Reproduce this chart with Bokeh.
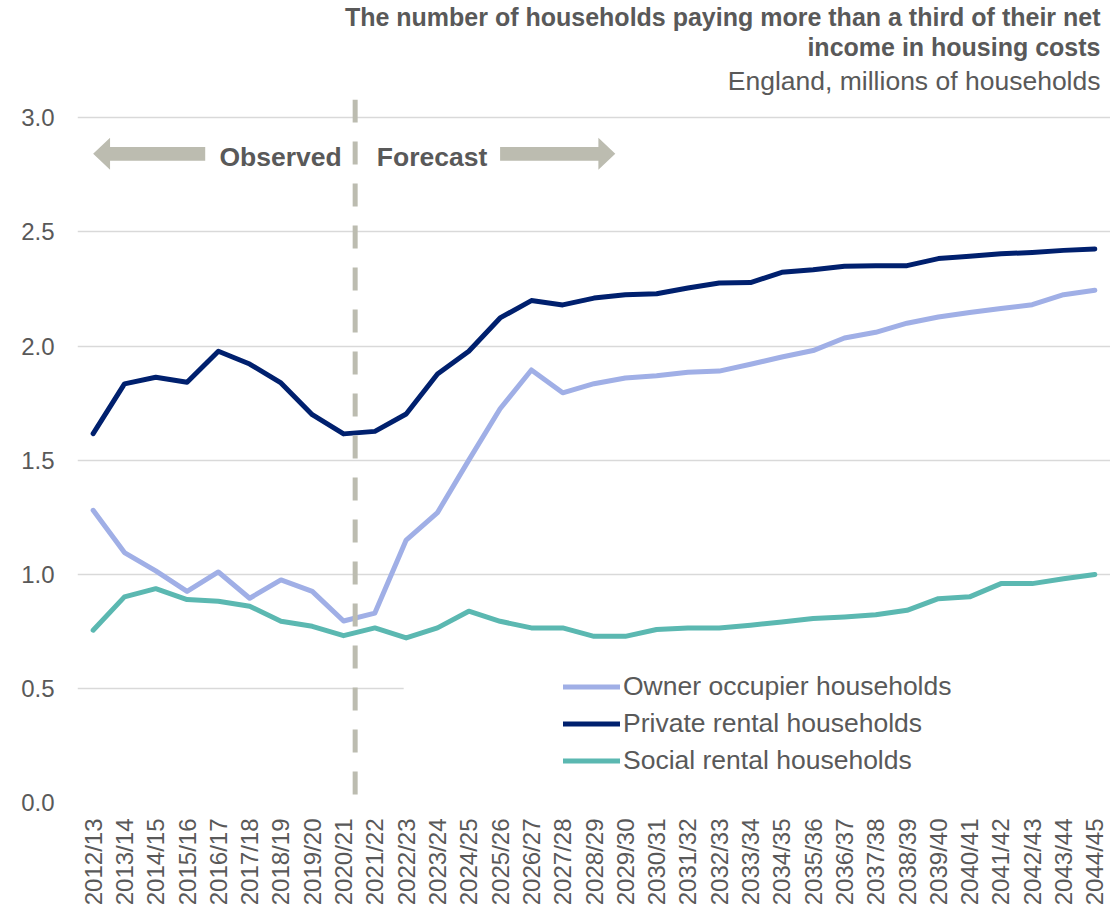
import math
from bokeh.plotting import figure
from bokeh.models import (Range1d, FixedTicker, Span, Label, Legend, LegendItem,
                          Title, BoxAnnotation, PrintfTickFormatter)
from bokeh.embed import file_html
from bokeh.resources import INLINE

# ---------------- data ----------------
years = ["2012/13", "2013/14", "2014/15", "2015/16", "2016/17", "2017/18", "2018/19",
         "2019/20", "2020/21", "2021/22", "2022/23", "2023/24", "2024/25", "2025/26",
         "2026/27", "2027/28", "2028/29", "2029/30", "2030/31", "2031/32", "2032/33",
         "2033/34", "2034/35", "2035/36", "2036/37", "2037/38", "2038/39", "2039/40",
         "2040/41", "2041/42", "2042/43", "2043/44", "2044/45"]

owner = [1.28, 1.095, 1.015, 0.925, 1.01, 0.895, 0.975, 0.925, 0.795, 0.83, 1.15,
         1.27, 1.50, 1.725, 1.895, 1.795, 1.835, 1.86, 1.87, 1.885, 1.89, 1.92, 1.952,
         1.98, 2.035, 2.06, 2.10, 2.127, 2.147, 2.164, 2.181, 2.225, 2.244]

private = [1.616, 1.834, 1.863, 1.841, 1.977, 1.921, 1.838, 1.699, 1.615, 1.626, 1.702,
           1.877, 1.977, 2.123, 2.199, 2.180, 2.210, 2.225, 2.229, 2.254, 2.276, 2.278,
           2.323, 2.334, 2.349, 2.352, 2.352, 2.383, 2.393, 2.404, 2.410, 2.419, 2.425]

social = [0.755, 0.901, 0.937, 0.889, 0.882, 0.860, 0.794, 0.772, 0.731, 0.765, 0.721,
          0.765, 0.838, 0.794, 0.765, 0.765, 0.728, 0.728, 0.758, 0.765, 0.765, 0.777,
          0.791, 0.806, 0.813, 0.823, 0.842, 0.893, 0.901, 0.959, 0.959, 0.980, 0.999]

series_names = ["Owner occupier households", "Private rental households",
                "Social rental households"]
y_ticks = [0.0, 0.5, 1.0, 1.5, 2.0, 2.5, 3.0]

title_line1 = "The number of households paying more than a third of their net"
title_line2 = "income in housing costs"
subtitle = "England, millions of households"

# ---------------- style ----------------
FONT = "Liberation Sans"
TXT = "#595959"
C_OWNER = "#A0AFE6"
C_PRIVATE = "#00206E"
C_SOCIAL = "#5BB8B1"
C_GREY = "#BCBCB0"

x_idx = list(range(len(years)))

p = figure(width=1110, height=908, output_backend="svg", toolbar_location=None,
           x_range=Range1d(-0.5, len(years) - 0.5), y_range=Range1d(0, 3.08),
           min_border_left=77, min_border_right=0, min_border_top=0, min_border_bottom=0)
p.outline_line_color = None
p.background_fill_color = "white"
p.border_fill_color = "white"

# titles (first added is closest to the plot)
for txt, size, style, sd in [(subtitle, "26.5px", "normal", 7),
                             (title_line2, "25px", "bold", 0),
                             (title_line1, "25px", "bold", 0)]:
    p.add_layout(Title(text=txt, align="right", text_font=FONT, text_font_size=size,
                       text_font_style=style, text_color=TXT, standoff=sd, offset=10),
                 "above")

# grid & axes
p.xgrid.visible = False
p.ygrid.ticker = FixedTicker(ticks=y_ticks)
p.ygrid.grid_line_color = "#D9D9D9"
p.ygrid.grid_line_width = 1.5

p.yaxis.ticker = FixedTicker(ticks=y_ticks)
p.yaxis.formatter = PrintfTickFormatter(format="%.1f")
p.xaxis.ticker = FixedTicker(ticks=x_idx)
p.xaxis.major_label_overrides = {i: y for i, y in zip(x_idx, years)}
p.xaxis.major_label_orientation = math.pi / 2
for ax in (p.xaxis[0], p.yaxis[0]):
    ax.axis_line_color = None
    ax.major_tick_line_color = None
    ax.minor_tick_line_color = None
    ax.major_label_text_font = FONT
    ax.major_label_text_font_size = "24px"
    ax.major_label_text_color = TXT
p.yaxis.major_label_standoff = 17
p.xaxis.major_label_standoff = 10

# white area behind legend (hides the gridline as in the original)
p.add_layout(BoxAnnotation(left=9.92, right=len(years) - 0.5, bottom=0.3, top=0.63,
                           fill_color="white", fill_alpha=1.0, line_color=None))

# lines
r_owner = p.line(x_idx, owner, line_color=C_OWNER, line_width=5,
                 line_cap="round", line_join="round")
r_private = p.line(x_idx, private, line_color=C_PRIVATE, line_width=5,
                   line_cap="round", line_join="round")
r_social = p.line(x_idx, social, line_color=C_SOCIAL, line_width=5,
                  line_cap="round", line_join="round")

# observed / forecast divider
p.add_layout(Span(location=8.37, dimension="height", line_color=C_GREY, line_width=5,
                  line_dash="23 19"))

# arrows
ay = 2.842
shaft_h = 0.03
head_h = 0.07
head_len = 0.54


def arrow(x_tail, x_tip):
    d = 1 if x_tip > x_tail else -1
    xb = x_tip - d * head_len
    xs = [x_tail, xb, xb, x_tip, xb, xb, x_tail]
    ys = [ay + shaft_h, ay + shaft_h, ay + head_h, ay, ay - head_h, ay - shaft_h, ay - shaft_h]
    return xs, ys


a1 = arrow(3.58, 0.0)
a2 = arrow(13.0, 16.68)
p.patches([a1[0], a2[0]], [a1[1], a2[1]], fill_color=C_GREY, line_color=None)

for x, t, al in [(7.94, "Observed", "right"), (9.06, "Forecast", "left")]:
    p.add_layout(Label(x=x, y=2.83, text=t, text_align=al, text_baseline="middle",
                       text_font=FONT, text_font_size="26.5px", text_font_style="bold",
                       text_color=TXT))

legend = Legend(items=[LegendItem(label=series_names[0], renderers=[r_owner]),
                       LegendItem(label=series_names[1], renderers=[r_private]),
                       LegendItem(label=series_names[2], renderers=[r_social])],
                location=(486, 23), orientation="vertical",
                label_text_font=FONT, label_text_font_size="26.5px", label_text_color=TXT,
                glyph_width=57, glyph_height=37, label_height=37, label_standoff=3,
                spacing=0, padding=0, margin=0,
                background_fill_alpha=0, border_line_alpha=0)
p.add_layout(legend, "center")

open("out.html", "w").write(file_html(p, INLINE))
